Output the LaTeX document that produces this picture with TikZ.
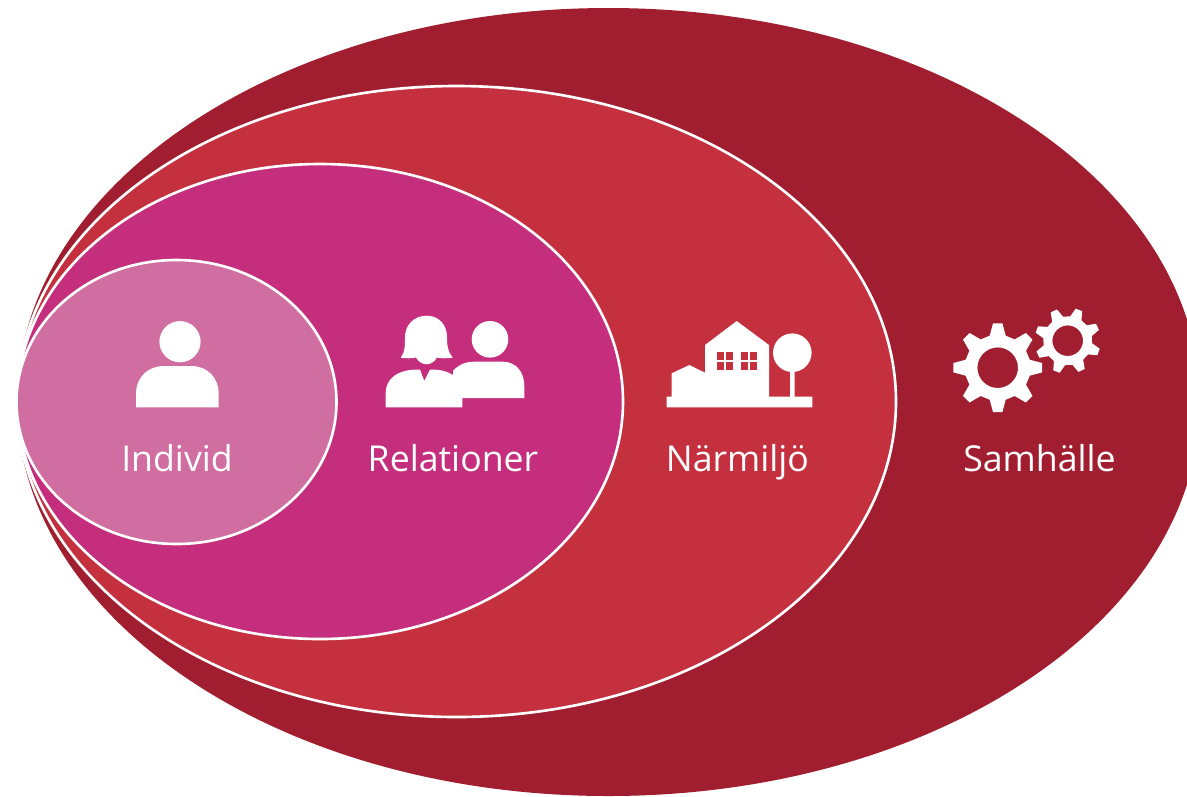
\documentclass[tikz,border=0pt]{standalone}
\usepackage{fontspec}
\setmainfont{Open Sans}
\definecolor{samhallered}{HTML}{A01E2F}
\definecolor{narmiljored}{HTML}{C5303F}
\definecolor{relationpink}{HTML}{C42E7D}
\definecolor{individpink}{HTML}{D06EA2}

\begin{document}
\begin{tikzpicture}[
            x=0.02cm, y=-0.02cm,
            levelring/.style={draw=white, line width=1.5pt},
            levellabel/.style={anchor=base, inner sep=0pt, text=white, font=\fontsize{20.3}{24}\selectfont},
            icon/.style={fill=white, draw=none},
        ]
        \useasboundingbox (0,0) rectangle (1187,796);
        \clip (0,0) rectangle (1187,796);

        \fill[samhallered] (608.5,402) circle [x radius=591.5, y radius=394];
        \filldraw[levelring, fill=narmiljored] (456.5,401.5) circle [x radius=439.5, y radius=315.5];
        \filldraw[levelring, fill=relationpink] (320,401.5) circle [x radius=303, y radius=237.5];
        \filldraw[levelring, fill=individpink] (176.5,402) circle [x radius=160, y radius=142];

        \node[levellabel] (individ) at (177,471.5) {Individ};
        \node[levellabel] (relationer) at (453,471.5) {Relationer};
        \node[levellabel] (narmiljo) at (737.5,471.5) {Närmiljö};
        \node[levellabel] (samhalle) at (1039.5,471.5) {Samhälle};

        % person
        \fill[icon] (180,341.7) circle [radius=20.6];
        \fill[icon] (136,407.3) -- (136,394) .. controls (136,377) and (148,366) .. (164,366)
            -- (191,366) .. controls (207,366) and (218.7,377) .. (218.7,394) -- (218.7,407.3) -- cycle;

        % two persons
        \fill[icon] (490,339.3) circle [radius=18.3];
        \fill[icon] (453,371) .. controls (458,365) and (465,361.7) .. (474,361.7)
            -- (503,361.7) .. controls (516,361.7) and (524.3,372) .. (524.3,386)
            -- (524.3,398) -- (462.3,398) -- (462.3,407.3) -- (385.7,407.3) -- (385.7,393)
            .. controls (385.7,379) and (397,369) .. (420,369.5)
            -- (424.3,381) -- (430,369.5) .. controls (440,369.5) and (447,371) .. (453,375) -- cycle;
        \fill[icon] (426.7,315.7) .. controls (439,315.7) and (447,325) .. (447,337)
            .. controls (447,346) and (448,352) .. (452.7,357.7)
            .. controls (446,358.5) and (441,358.5) .. (437,357.5)
            .. controls (432,366.5) and (421,366.5) .. (416,357.5)
            .. controls (411,358.5) and (406,358.5) .. (400.7,357.7)
            .. controls (405,352) and (405,346) .. (405,337)
            .. controls (405,325) and (414,315.7) .. (426.7,315.7) -- cycle;

        % house and tree
        \fill[icon] (666.7,396.5) -- (671.7,396.5) -- (671.7,373.3) -- (689.3,365) -- (705,372.7)
            -- (705,345) -- (736.7,321) -- (769,345) -- (769,396.5) -- (790,396.5) -- (790,365)
            -- (794.7,365) -- (794.7,396.5) -- (812.3,396.5) -- (812.3,407.3) -- (666.7,407.3) -- cycle;
        \fill[icon] (792.3,352.7) circle [radius=19.3];
        \foreach \wx in {717.3,741.3}
            \foreach \px/\py in {0/351.7,8.7/351.7,0/361.5,8.7/361.5}
                \fill[narmiljored] (\wx+\px,\py) rectangle +(7,8.2);

        % gears
        \foreach \cx/\cy/\router/\rroot/\rhole/\rot in {997.7/367.7/44.7/33/20.3/0,1067.7/340.7/33/24.5/15.3/20}
            \fill[icon, even odd rule, shift={(\cx,\cy)}] (\rot-14:\rroot)
                \foreach \a in {0,45,...,315} {
                    -- ({\rot+\a-14}:\rroot) -- ({\rot+\a-6}:\router)
                    -- ({\rot+\a+6}:\router) -- ({\rot+\a+14}:\rroot)
                } -- cycle (0,0) circle [radius=\rhole];
    \end{tikzpicture}
\end{document}
